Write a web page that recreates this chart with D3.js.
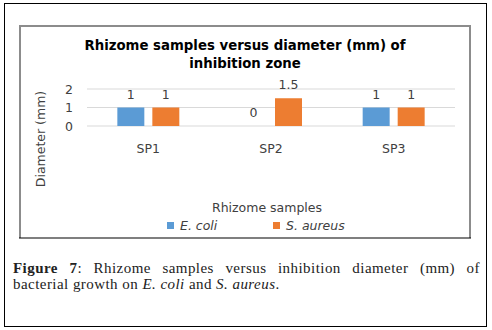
<!DOCTYPE html>
<html><head><meta charset="utf-8">
<script src="https://cdn.jsdelivr.net/npm/d3@7"></script>
<style>
body{margin:0;background:#fff;}
#wrap{position:relative;width:492px;height:330px;}
svg{position:absolute;left:0;top:0;}
.cap{position:absolute;left:13px;width:467px;font-family:"Liberation Serif","DejaVu Serif",serif;font-size:15px;letter-spacing:0.45px;line-height:16px;color:#222;white-space:nowrap;}
</style></head>
<body><div id="wrap"></div>
<script>
const categories = ["SP1","SP2","SP3"];
const seriesNames = ["E. coli","S. aureus"];
const ecoli = [1,0,1];
const saureus = [1,1.5,1];
const yTicks = [0,1,2];
const colors = ["#5B9BD5","#ED7D31"];

const wrap = d3.select("#wrap");
const svg = wrap.append("svg").attr("width",492).attr("height",330);

// outer frame
svg.append("rect").attr("x",4.5).attr("y",3.5).attr("width",482).attr("height",323)
  .attr("fill","none").attr("stroke","#000").attr("stroke-width",1);
// inner chart frame
svg.append("path").attr("d","M20,238 L20,26 L470,26 L470,238").attr("fill","none")
  .attr("stroke","#8c8c8c").attr("stroke-width",2);
svg.append("line").attr("x1",19).attr("x2",471).attr("y1",238).attr("y2",238)
  .attr("stroke","#000").attr("stroke-width",1.2);

const font = "'DejaVu Sans',Verdana,sans-serif";

// title
const title = svg.append("text").attr("text-anchor","middle").attr("font-family",font)
  .attr("font-weight","bold").attr("font-size",13.3).attr("fill","#000");
title.append("tspan").attr("x",245).attr("y",50).text("Rhizome samples versus diameter (mm) of");
title.append("tspan").attr("x",245).attr("y",68).text("inhibition zone");

const x0 = d3.scaleBand().domain(categories).range([87,455]).paddingInner(0).paddingOuter(0);
const x1 = d3.scaleBand().domain(seriesNames).range([0,x0.bandwidth()]).paddingInner(0.229).paddingOuter(0.867);
const y = d3.scaleLinear().domain([0,2]).range([126,89]);

// gridlines
svg.append("g").selectAll("line").data(yTicks).join("line")
  .attr("x1",87).attr("x2",455).attr("y1",d=>y(d)).attr("y2",d=>y(d))
  .attr("stroke","#d9d9d9").attr("stroke-width",1);

// y tick labels
const yAxis = d3.axisLeft(y).tickValues(yTicks).tickSize(0).tickPadding(0).tickFormat(d3.format("d"));
const ga = svg.append("g").attr("transform","translate(73,0)").call(yAxis);
ga.select(".domain").remove();
ga.selectAll("text").attr("font-family",font).attr("font-size",12.5).attr("fill","#404040");

// bars
const data = categories.map((c,i)=>({cat:c, vals:[{s:seriesNames[0],v:ecoli[i],k:0},{s:seriesNames[1],v:saureus[i],k:1}]}));
const groups = svg.append("g").selectAll("g").data(data).join("g")
  .attr("transform",d=>`translate(${x0(d.cat)},0)`);
groups.selectAll("rect").data(d=>d.vals).join("rect")
  .attr("x",d=>x1(d.s)).attr("width",x1.bandwidth())
  .attr("y",d=>y(d.v)).attr("height",d=>y(0)-y(d.v)).attr("fill",d=>colors[d.k]);
groups.selectAll("text").data(d=>d.vals).join("text")
  .attr("x",d=>x1(d.s)+x1.bandwidth()/2).attr("y",d=>y(d.v)-9)
  .attr("text-anchor","middle").attr("font-family",font).attr("font-size",12.5).attr("fill","#404040")
  .text(d=>d.v);

// x labels
const xAxis = d3.axisBottom(x0).tickSize(0).tickPadding(0);
const gx = svg.append("g").attr("transform","translate(0,144)").call(xAxis);
gx.select(".domain").remove();
gx.selectAll("text").attr("font-family",font).attr("font-size",12.5).attr("fill","#404040");

// axis titles
svg.append("text").attr("transform","translate(44.5,139) rotate(-90)").attr("text-anchor","middle")
  .attr("font-family",font).attr("font-size",12.5).attr("fill","#404040").text("Diameter (mm)");
svg.append("text").attr("x",267).attr("y",212).attr("text-anchor","middle")
  .attr("font-family",font).attr("font-size",12.5).attr("fill","#404040").text("Rhizome samples");

// legend
const legX = [167,273];
seriesNames.forEach((s,i)=>{
  svg.append("rect").attr("x",legX[i]).attr("y",222).attr("width",7).attr("height",7).attr("fill",colors[i]);
  svg.append("text").attr("x",legX[i]+13).attr("y",230).attr("font-family",font).attr("font-style","italic")
    .attr("font-size",12.5).attr("fill","#404040").text(s);
});

// caption
wrap.append("div").attr("class","cap").style("top","260px").style("text-align","justify").style("text-align-last","justify")
  .html("<b>Figure 7</b>: Rhizome samples versus inhibition diameter (mm) of");
wrap.append("div").attr("class","cap").style("top","276px")
  .html("bacterial growth on <i>E. coli</i> and <i>S. aureus</i>.");
</script></body></html>
